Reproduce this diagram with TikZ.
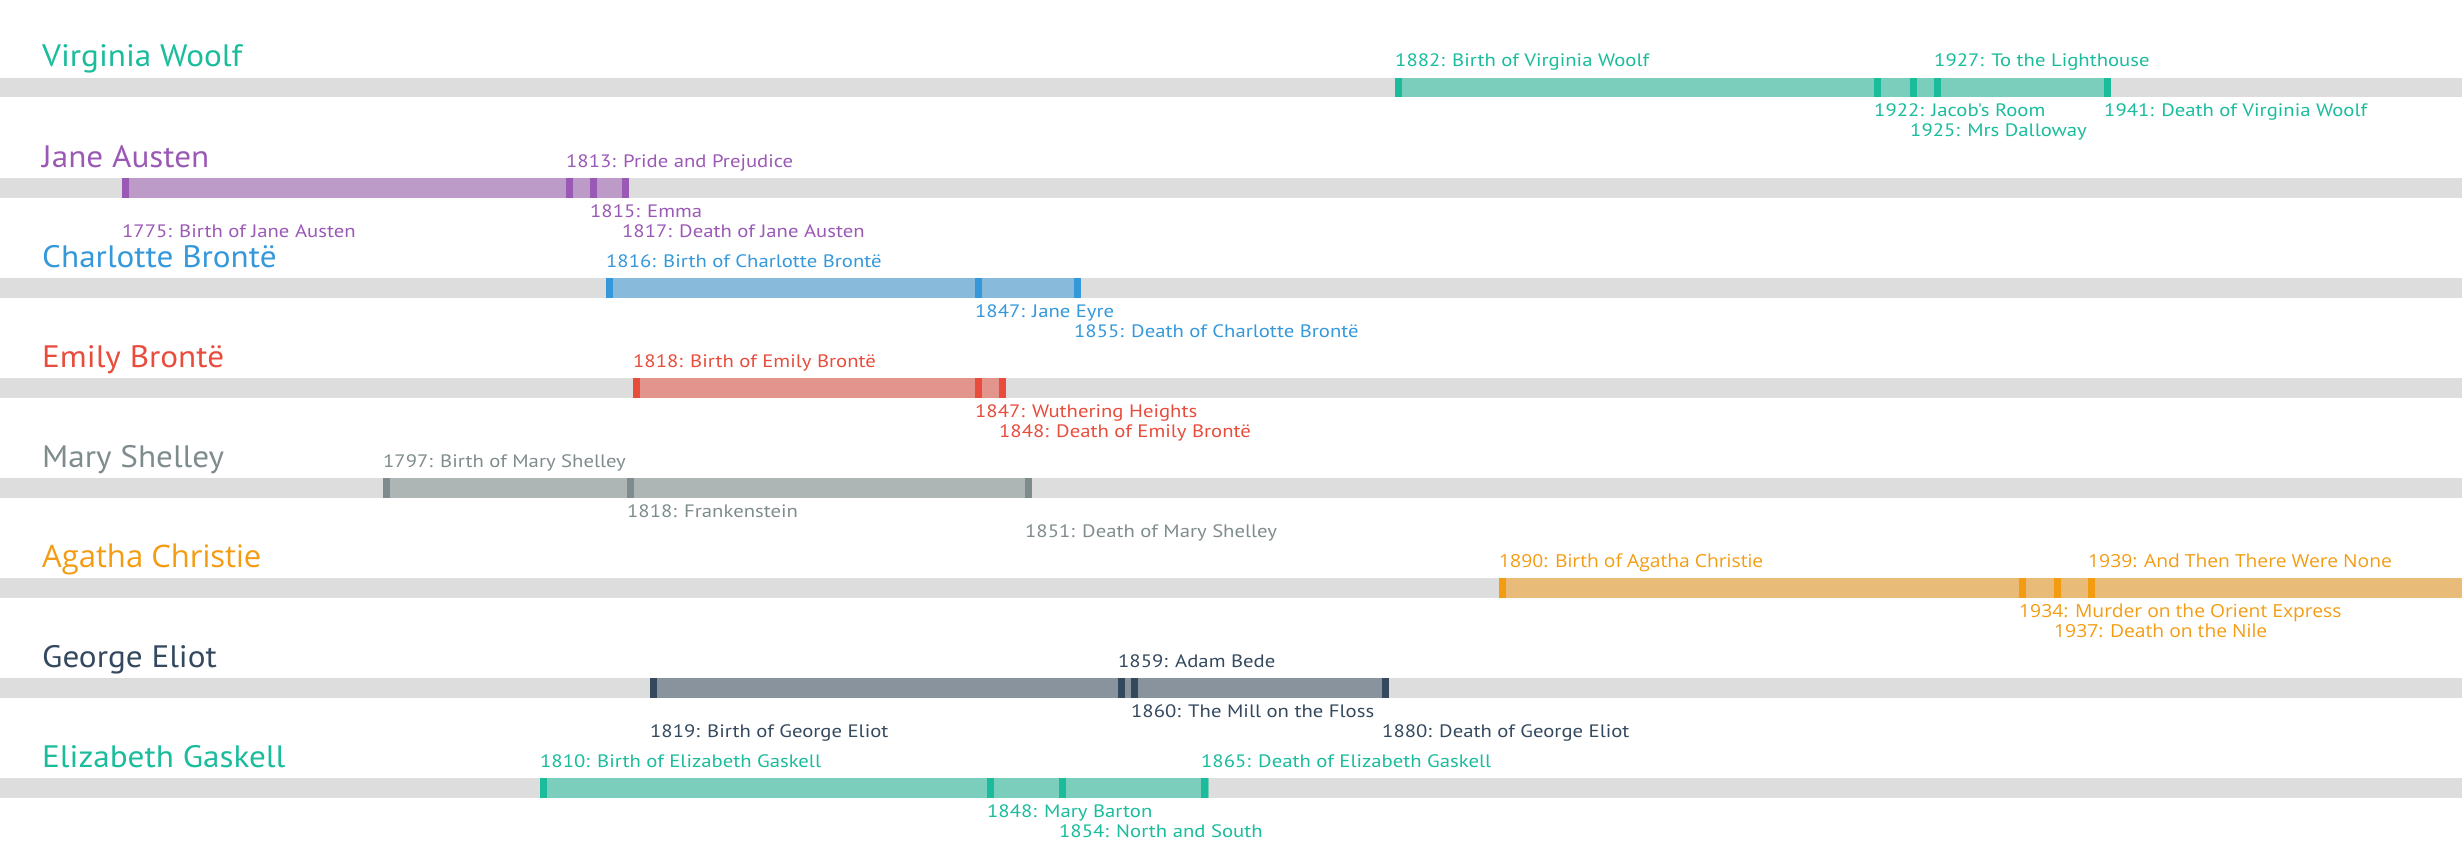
\documentclass[tikz,border=0pt]{standalone}
\usepackage{fontspec}
\setmainfont{PT Sans}
\newfontfamily\evfont{PT Sans}[FakeStretch=1.15]
\newfontfamily\nmfont{PT Sans}[FakeStretch=1.07]
\newfontfamily\agfont{Open Sans}
\newfontfamily\agevfont{Open Sans}[FakeStretch=1.07]
\definecolor{bg}{HTML}{DDDDDD}
\definecolor{cvw}{HTML}{1ABC9C}
\definecolor{cja}{HTML}{9B59B6}
\definecolor{ccb}{HTML}{3498DB}
\definecolor{ceb}{HTML}{E74C3C}
\definecolor{cms}{HTML}{7F8C8D}
\definecolor{cac}{HTML}{F39C12}
\definecolor{cge}{HTML}{34495E}
\definecolor{ceg}{HTML}{1ABC9C}
\newcommand\mk[3]{\fill[#1] (#2,#3) rectangle ++(7,19.5);}
\newcommand\track[1]{\fill[bg] (0,#1) rectangle (2462,#1+19.5);}
\newcommand\lifebar[4]{\fill[#1!50!bg] (#2,#4) rectangle (#3,#4+19.5);}
\begin{document}
\begin{tikzpicture}[x=1pt,y=-1pt,
  author/.style={font=\nmfont\fontsize{31}{31}\selectfont, anchor=base west, inner sep=0},
  ev/.style={font=\evfont\fontsize{18}{18}\selectfont, anchor=base west, inner sep=0},
  agev/.style={font=\agevfont\fontsize{18}{18}\selectfont, anchor=base west, inner sep=0}]
\useasboundingbox (0,0) rectangle (2462,848);
% ---------- Virginia Woolf (top 78)
\track{78}
\lifebar{cvw}{1395}{2111}{78}
\mk{cvw}{1395}{78}\mk{cvw}{1874}{78}\mk{cvw}{1910}{78}\mk{cvw}{1934}{78}\mk{cvw}{2104}{78}
\node[author,text=cvw] (vw) at (42,67) {Virginia Woolf};
\node[ev,text=cvw] (vw1) at (1395,67) {1882: Birth of Virginia Woolf};
\node[ev,text=cvw] (vw2) at (1874,117) {1922: Jacob's Room};
\node[ev,text=cvw] (vw3) at (1910,137) {1925: Mrs Dalloway};
\node[ev,text=cvw] (vw4) at (1934,67) {1927: To the Lighthouse};
\node[ev,text=cvw] (vw5) at (2104,117) {1941: Death of Virginia Woolf};
% ---------- Jane Austen (top 178)
\track{178}
\lifebar{cja}{122}{629}{178}
\mk{cja}{122}{178}\mk{cja}{566}{178}\mk{cja}{590}{178}\mk{cja}{622}{178}
\node[author,text=cja] (ja) at (42,167) {Jane Austen};
\node[ev,text=cja] (ja1) at (122,237) {1775: Birth of Jane Austen};
\node[ev,text=cja] (ja2) at (566,167) {1813: Pride and Prejudice};
\node[ev,text=cja] (ja3) at (590,217) {1815: Emma};
\node[ev,text=cja] (ja4) at (622,237) {1817: Death of Jane Austen};
% ---------- Charlotte Bronte (top 278)
\track{278}
\lifebar{ccb}{606}{1081}{278}
\mk{ccb}{606}{278}\mk{ccb}{975}{278}\mk{ccb}{1074}{278}
\node[author,text=ccb] (cb) at (42,267) {Charlotte Brontë};
\node[ev,text=ccb] (cb1) at (606,267) {1816: Birth of Charlotte Brontë};
\node[ev,text=ccb] (cb2) at (975,317) {1847: Jane Eyre};
\node[ev,text=ccb] (cb3) at (1074,337) {1855: Death of Charlotte Brontë};
% ---------- Emily Bronte (top 378)
\track{378}
\lifebar{ceb}{633}{1006}{378}
\mk{ceb}{633}{378}\mk{ceb}{975}{378}\mk{ceb}{999}{378}
\node[author,text=ceb] (eb) at (42,367) {Emily Brontë};
\node[ev,text=ceb] (eb1) at (633,367) {1818: Birth of Emily Brontë};
\node[ev,text=ceb] (eb2) at (975,417) {1847: Wuthering Heights};
\node[ev,text=ceb] (eb3) at (999,437) {1848: Death of Emily Brontë};
% ---------- Mary Shelley (top 478)
\track{478}
\lifebar{cms}{383}{1032}{478}
\mk{cms}{383}{478}\mk{cms}{627}{478}\mk{cms}{1025}{478}
\node[author,text=cms] (ms) at (42,467) {Mary Shelley};
\node[ev,text=cms] (ms1) at (383,467) {1797: Birth of Mary Shelley};
\node[ev,text=cms] (ms2) at (627,517) {1818: Frankenstein};
\node[ev,text=cms] (ms3) at (1025,537) {1851: Death of Mary Shelley};
% ---------- Agatha Christie (top 578)
\track{578}
\lifebar{cac}{1499}{2462}{578}
\mk{cac}{1499}{578}\mk{cac}{2019}{578}\mk{cac}{2054}{578}\mk{cac}{2088}{578}
\node[author,text=cac,font=\agfont\fontsize{31}{31}\selectfont] (ac) at (42,567) {Agatha Christie};
\node[agev,text=cac] (ac1) at (1499,567) {1890: Birth of Agatha Christie};
\node[agev,text=cac] (ac2) at (2019,617) {1934: Murder on the Orient Express};
\node[agev,text=cac] (ac3) at (2054,637) {1937: Death on the Nile};
\node[agev,text=cac] (ac4) at (2088,567) {1939: And Then There Were None};
% ---------- George Eliot (top 678)
\track{678}
\lifebar{cge}{650}{1389}{678}
\mk{cge}{650}{678}\mk{cge}{1118}{678}\mk{cge}{1131}{678}\mk{cge}{1382}{678}
\node[author,text=cge] (ge) at (42,667) {George Eliot};
\node[ev,text=cge] (ge1) at (650,737) {1819: Birth of George Eliot};
\node[ev,text=cge] (ge2) at (1118,667) {1859: Adam Bede};
\node[ev,text=cge] (ge3) at (1131,717) {1860: The Mill on the Floss};
\node[ev,text=cge] (ge4) at (1382,737) {1880: Death of George Eliot};
% ---------- Elizabeth Gaskell (top 778)
\track{778}
\lifebar{ceg}{540}{1209}{778}
\mk{ceg}{540}{778}\mk{ceg}{987}{778}\mk{ceg}{1059}{778}\mk{ceg}{1201}{778}
\node[author,text=ceg] (eg) at (42,767) {Elizabeth Gaskell};
\node[ev,text=ceg] (eg1) at (540,767) {1810: Birth of Elizabeth Gaskell};
\node[ev,text=ceg] (eg2) at (987,817) {1848: Mary Barton};
\node[ev,text=ceg] (eg3) at (1059,837) {1854: North and South};
\node[ev,text=ceg] (eg4) at (1201,767) {1865: Death of Elizabeth Gaskell};
\end{tikzpicture}
\end{document}
